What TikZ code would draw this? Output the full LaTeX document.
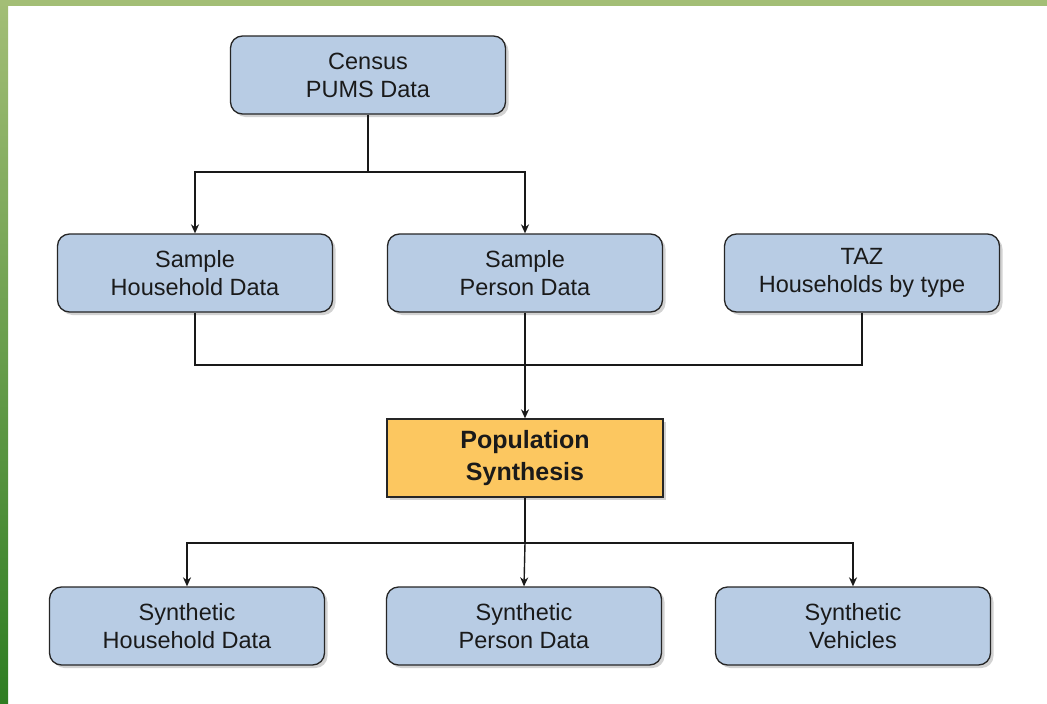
\documentclass[tikz,border=0pt]{standalone}
\usepackage{fontspec}
\setmainfont{Liberation Sans}
\usetikzlibrary{shadows,arrows.meta}
\definecolor{boxblue}{HTML}{B8CCE4}
\definecolor{boxorange}{HTML}{FCC760}
\definecolor{lightgreen}{HTML}{A3BE76}
\definecolor{darkgreen}{HTML}{2E7D22}
\definecolor{txt}{HTML}{1A1A1A}
\begin{document}
\begin{tikzpicture}[x=1pt,y=-1pt,
  boxshadow/.style={drop shadow={opacity=0.35,shadow xshift=3pt,shadow yshift=-3pt}},
  bluebox/.style={draw=black!85,line width=1.3pt,fill=boxblue,rounded corners=12pt,
    minimum width=275pt,minimum height=78pt,align=center,text=txt,
    font=\fontsize{23.5}{28}\selectfont,boxshadow},
  orangebox/.style={draw=black!85,line width=1.3pt,fill=boxorange,
    minimum width=276pt,minimum height=78pt,align=center,text=txt,
    font=\fontsize{25}{32}\selectfont\bfseries,boxshadow},
  conn/.style={draw=black!90,line width=1.9pt},
  connthin/.style={draw=black!90,line width=1.4pt},
  arr/.style={-{Stealth[length=9pt,width=8pt]}}
]
\useasboundingbox (0,0) rectangle (1047,704);
\fill[white] (0,0) rectangle (1047,704);
\shade[top color=lightgreen,bottom color=darkgreen] (0,0) rectangle (8,704);
\fill[lightgreen] (0,0) rectangle (1047,6);

\node[bluebox] (census) at (368,75) {Census\\PUMS Data};
\node[bluebox] (shh) at (195,273) {Sample\\Household Data};
\node[bluebox] (sp) at (525,273) {Sample\\Person Data};
\node[bluebox] (taz) at (862,273) {TAZ\\Households by type};
\node[orangebox] (pop) at (525,458) {Population\\Synthesis};
\node[bluebox] (syh) at (187,626) {Synthetic\\Household Data};
\node[bluebox] (syp) at (524,626) {Synthetic\\Person Data};
\node[bluebox] (syv) at (853,626) {Synthetic\\Vehicles};

\coordinate (j1) at (368,172);
\coordinate (j2) at (525,365);
\coordinate (j3) at (525,543);

\draw[conn] (census.south) -- (j1);
\draw[conn,arr] (j1) -| (shh.north);
\draw[conn,arr] (j1) -| (sp.north);

\draw[connthin] (shh.south) |- (j2);
\draw[connthin] (taz.south) |- (j2);
\draw[conn,arr] (sp.south) -- (pop.north);

\draw[connthin] (pop.south) -- (j3);
\draw[connthin,arr] (j3) -| (syh.north);
\draw[connthin,arr] (j3) -| (syv.north);
\draw[connthin,arr] (j3) -- (syp.north);
\end{tikzpicture}
\end{document}
